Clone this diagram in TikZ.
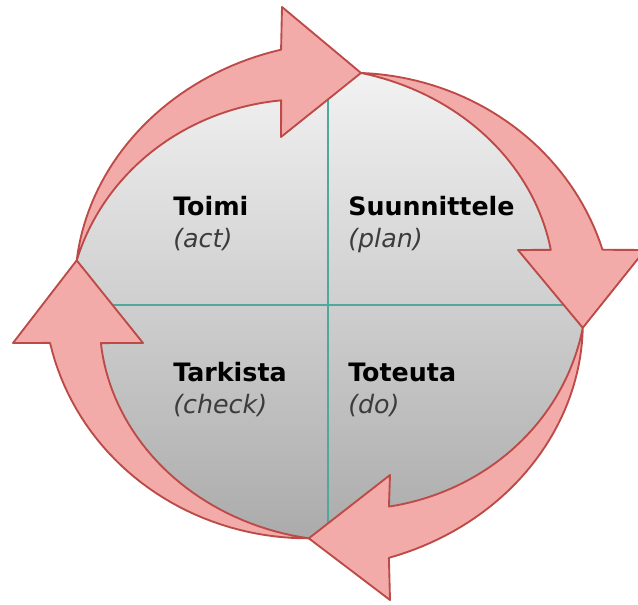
\documentclass[tikz,border=0pt]{standalone}
\usepackage{fontspec}
\setmainfont{DejaVu Sans}
\usetikzlibrary{positioning}
\definecolor{pdcafill}{HTML}{F3ABAA}
\definecolor{pdcaedge}{HTML}{BC4B48}
\definecolor{pdcateal}{HTML}{4FA89C}
\definecolor{pdcasub}{HTML}{3C3C3C}

\begin{document}
\begin{tikzpicture}[
    x=0.75pt, y=-0.75pt,
    declare function={ringx(\t,\d)=328+(256+\d)*cos(\t); ringy(\t,\d)=305-(234+\d)*sin(\t);},
    disc/.style={top color=black!5, bottom color=black!33, draw=none},
    cross/.style={draw=pdcateal, line width=1.9pt},
    pdcaarrow/.style={fill=pdcafill, draw=pdcaedge, line width=1.4pt, line join=round, samples=40},
    phase/.style={font=\fontsize{19pt}{22pt}\selectfont\bfseries, text=black, inner sep=0pt, anchor=base west},
    phasesub/.style={font=\fontsize{19pt}{22pt}\selectfont\itshape, text=pdcasub, inner sep=0pt}
]
\useasboundingbox (0,0) rectangle (638,605);
\clip (0,0) rectangle (638,605);

% Spitzen der Pfeile auf der Ellipse
\coordinate (tipT) at ({ringx(82.6,0)},{ringy(82.6,0)});
\coordinate (tipR) at ({ringx(-5.6,0)},{ringy(-5.6,0)});
\coordinate (tipB) at ({ringx(-94.3,0)},{ringy(-94.3,0)});
\coordinate (tipL) at ({ringx(169,0)},{ringy(169,0)});

% Graue Scheibe mit Kreuz
\path[disc] plot[domain=0:360, samples=90] ({ringx(\x,0)},{ringy(\x,0)}) -- cycle;
\begin{scope}
  \clip plot[domain=0:360, samples=90] ({ringx(\x,0)},{ringy(\x,0)}) -- cycle;
  \coordinate (vtop) at (328,60);
  \coordinate (vbot) at (328,550);
  \coordinate (hleft) at (60,305);
  \coordinate (hright) at (600,305);
  \draw[cross] (vtop) -- (vbot);
  \draw[cross] (hleft) -- (hright);
\end{scope}

% Beschriftungen der vier Phasen
\node[phase] (toimi) at (173,216) {Toimi};
\node[phasesub, below=23.3pt of toimi.base west, anchor=base west] (toimiEn) {(act)};
\node[phase] (suunn) at (348,216) {Suunnittele};
\node[phasesub, below=23.3pt of suunn.base west, anchor=base west] (suunnEn) {(plan)};
\node[phase] (tarkista) at (173,382) {Tarkista};
\node[phasesub, below=23.3pt of tarkista.base west, anchor=base west] (tarkistaEn) {(check)};
\node[phase] (toteuta) at (348,382) {Toteuta};
\node[phasesub, below=23.3pt of toteuta.base west, anchor=base west] (toteutaEn) {(do)};

% Pfeil oben (Toimi -> Suunnittele)
\draw[pdcaarrow] plot[domain=0:1] ({ringx(169-69.4*\x,25*\x)},{ringy(169-69.4*\x,25*\x)})
    -- (282,7) -- (tipT) -- (281,137)
    -- plot[domain=1:0] ({ringx(169-67.3*\x,-25*\x)},{ringy(169-67.3*\x,-25*\x)}) -- cycle;

% Pfeil rechts (Suunnittele -> Toteuta)
\draw[pdcaarrow] plot[domain=0:1] ({ringx(82.6-70.3*\x,25*\x)},{ringy(82.6-70.3*\x,25*\x)})
    -- (645,250) -- (tipR) -- (518,250)
    -- plot[domain=1:0] ({ringx(82.6-67.3*\x,-25*\x)},{ringy(82.6-67.3*\x,-25*\x)}) -- cycle;

% Pfeil unten (Toteuta -> Tarkista)
\draw[pdcaarrow] plot[domain=0:1] ({ringx(-5.6-71.9*\x,25*\x)},{ringy(-5.6-71.9*\x,25*\x)})
    -- (390,600) -- (tipB) -- (390,475)
    -- plot[domain=1:0] ({ringx(-5.6-69.1*\x,-25*\x)},{ringy(-5.6-69.1*\x,-25*\x)}) -- cycle;

% Pfeil links (Tarkista -> Toimi)
\draw[pdcaarrow] plot[domain=0:1] ({ringx(-94.3-77.3*\x,25*\x)},{ringy(-94.3-77.3*\x,25*\x)})
    -- (13,343) -- (tipL) -- (143,343)
    -- plot[domain=1:0] ({ringx(-94.3-75.2*\x,-25*\x)},{ringy(-94.3-75.2*\x,-25*\x)}) -- cycle;

\end{tikzpicture}
\end{document}
